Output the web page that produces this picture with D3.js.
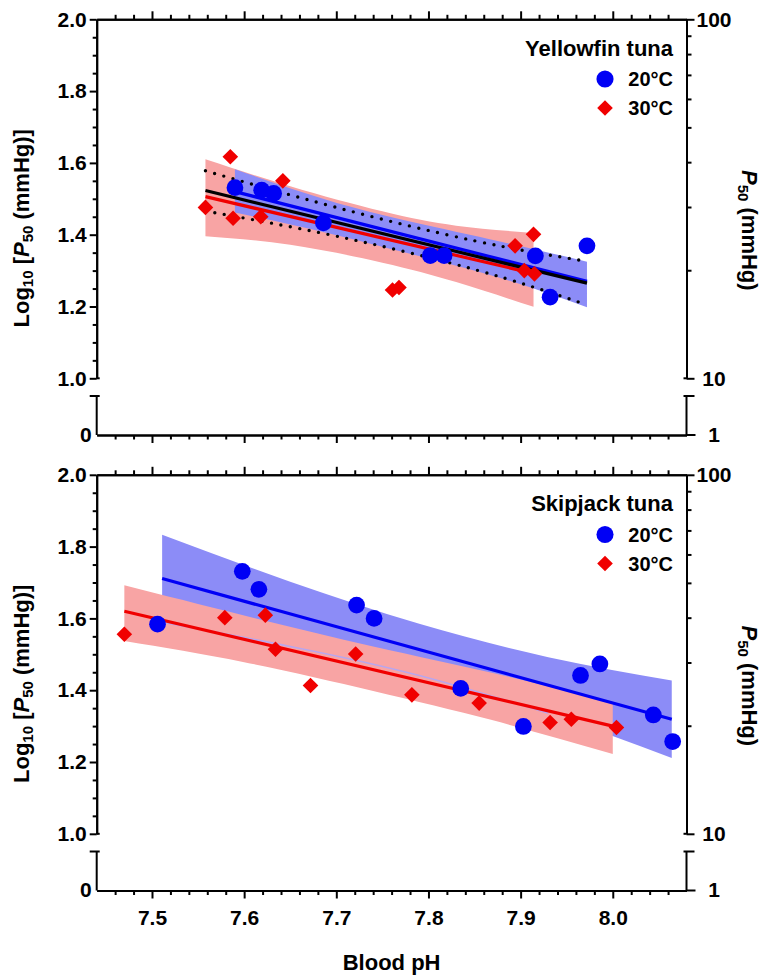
<!DOCTYPE html>
<html>
<head>
<meta charset="utf-8">
<script src="https://cdn.jsdelivr.net/npm/d3@7"></script>
<style>
  body { margin: 0; background: #fff }
  svg text { font-family: "Liberation Sans", Arial, sans-serif; font-weight: bold; fill: #000 }
  .axis path, .axis line { stroke: #000; stroke-width: 2; fill: none }
  .axis .tick text { font-size: 21px }
</style>
</head>
<body>
<div id="chart"></div>
<script>
// Yellowfin tuna, log10 P50 against blood pH
var yf_ph_20 = [7.590, 7.619, 7.632, 7.686, 7.802, 7.817, 7.916, 7.932, 7.972]
var yf_log_20 = [1.531, 1.524, 1.515, 1.433, 1.342, 1.342, 1.341, 1.226, 1.369]
var yf_ph_30 = [7.585, 7.642, 7.558, 7.588, 7.618, 7.914, 7.894, 7.904, 7.915, 7.761, 7.768]
var yf_log_30 = [1.617, 1.550, 1.476, 1.446, 1.450, 1.401, 1.369, 1.300, 1.291, 1.246, 1.253]

// Skipjack tuna
var sk_ph_20 = [7.506, 7.598, 7.616, 7.722, 7.741, 7.835, 7.903, 7.965, 7.986, 8.044, 8.065]
var sk_log_20 = [1.584, 1.731, 1.681, 1.637, 1.600, 1.405, 1.299, 1.441, 1.473, 1.331, 1.257]
var sk_ph_30 = [7.470, 7.579, 7.623, 7.634, 7.672, 7.721, 7.782, 7.855, 7.932, 7.955, 8.004]
var sk_log_30 = [1.556, 1.602, 1.609, 1.514, 1.413, 1.501, 1.387, 1.364, 1.310, 1.319, 1.296]

// regression lines [pH, log10 P50]
var yf_fit_20 = [[7.590, 1.520], [7.972, 1.270]]
var yf_fit_30 = [[7.558, 1.506], [7.914, 1.292]]
var yf_fit_all = [[7.558, 1.523], [7.972, 1.265]]
var sk_fit_20 = [[7.511, 1.711], [8.064, 1.319]]
var sk_fit_30 = [[7.470, 1.620], [8.000, 1.300]]

// 95% bands [pH, lower, upper]
var yf_band_20 = [[7.590, 1.462, 1.582], [7.690, 1.405, 1.497], [7.780, 1.347, 1.437], [7.880, 1.278, 1.380], [7.972, 1.198, 1.325]]
var yf_band_30 = [[7.558, 1.396, 1.610], [7.650, 1.372, 1.535], [7.750, 1.322, 1.465], [7.830, 1.268, 1.425], [7.914, 1.199, 1.405]]
var yf_band_all = [[7.558, 1.466, 1.578], [7.700, 1.396, 1.476], [7.850, 1.303, 1.383], [7.967, 1.209, 1.328]]
var sk_band_20 = [[7.511, 1.589, 1.833], [7.650, 1.522, 1.702], [7.790, 1.441, 1.585], [7.930, 1.336, 1.492], [8.064, 1.211, 1.427]]
var sk_band_30 = [[7.470, 1.537, 1.692], [7.600, 1.478, 1.608], [7.740, 1.398, 1.522], [7.870, 1.316, 1.448], [8.000, 1.222, 1.366]]

// axes
var x_domain = [7.44, 8.08]
var x_major = [7.5, 7.6, 7.7, 7.8, 7.9, 8.0]
var y_major = [1.0, 1.2, 1.4, 1.6, 1.8, 2.0]
var p50_major = [10, 100]
var p50_minor = [20, 30, 40, 50, 60, 70, 80, 90]
var legend_labels = ["20°C", "30°C"]

var width = 761, height = 976
var blue = "#0000f5", red = "#f00000"
var blue_band = "#8c8cf7", red_band = "#f8a4a4"

var svg = d3.select("#chart").append("svg")
  .attr("width", width)
  .attr("height", height)

var x = d3.scaleLinear().domain(x_domain).range([96.7, 686.5])
var x0 = x.range()[0], x1 = x.range()[1]
var x_minor = d3.range(373, 404).filter(function (i) { return i % 5 != 0 }).map(function (i) { return i / 50 })
var y_minor = d3.range(20, 41).filter(function (i) { return i % 4 != 0 }).map(function (i) { return i / 20 })

var circle = d3.symbol().type(d3.symbolCircle).size(220)
var square = d3.symbol().type(d3.symbolSquare).size(122)

function draw_frame(y0, show_x_labels) {
  var y = d3.scaleLinear().domain([1, 2]).range([y0 + 359, y0])
  var y_log = d3.scaleLog().domain([10, 100]).range([y0 + 359, y0])
  var y_one = y0 + 359, y_break = y0 + 376.7, y_zero = y0 + 415.7
  var frame = svg.append("g").attr("class", "axis")

  // left axis
  frame.append("g").attr("transform", "translate(" + x0 + ",0)")
    .call(d3.axisLeft(y).tickValues(y_minor).tickSize(4).tickSizeOuter(0).tickFormat(""))
  frame.append("g").attr("transform", "translate(" + x0 + ",0)")
    .call(d3.axisLeft(y).tickValues(y_major).tickSize(7).tickSizeOuter(0).tickPadding(3).tickFormat(d3.format(".1f")))
  frame.append("line").attr("x1", x0).attr("x2", x0 + 3).attr("y1", y_one).attr("y2", y_one)
  frame.append("line").attr("x1", x0).attr("x2", x0).attr("y1", y_break).attr("y2", y_zero)
  frame.append("line").attr("x1", x0 - 7).attr("x2", x0 + 3).attr("y1", y_break).attr("y2", y_break)
  frame.append("text").attr("x", x0 - 5).attr("y", y_zero).attr("dy", "0.32em")
    .attr("text-anchor", "end").style("font-size", "21px").text("0")

  // right axis, P50 on log scale
  frame.append("g").attr("transform", "translate(" + x1 + ",0)")
    .call(d3.axisRight(y_log).tickValues(p50_minor).tickSize(5).tickSizeOuter(0).tickFormat(""))
  var right = frame.append("g").attr("transform", "translate(" + x1 + ",0)")
    .call(d3.axisRight(y_log).tickValues(p50_major).tickSize(8).tickSizeOuter(0).tickFormat(d3.format("d")))
  right.selectAll(".tick text").attr("x", 27.5).attr("text-anchor", "middle")
  frame.append("line").attr("x1", x1 - 3).attr("x2", x1).attr("y1", y_one).attr("y2", y_one)
  frame.append("line").attr("x1", x1).attr("x2", x1).attr("y1", y_break).attr("y2", y_zero)
  frame.append("line").attr("x1", x1 - 3).attr("x2", x1 + 8).attr("y1", y_break).attr("y2", y_break)
  frame.append("line").attr("x1", x1).attr("x2", x1 + 9).attr("y1", y_zero).attr("y2", y_zero)
  frame.append("text").attr("x", x1 + 27.5).attr("y", y_zero).attr("dy", "0.32em")
    .attr("text-anchor", "middle").style("font-size", "21px").text("1")

  // top and bottom x axes
  frame.append("g").attr("transform", "translate(0," + y0 + ")")
    .call(d3.axisTop(x).tickValues(x_minor).tickSize(4.5).tickSizeOuter(0).tickFormat(""))
  frame.append("g").attr("transform", "translate(0," + y0 + ")")
    .call(d3.axisTop(x).tickValues(x_major).tickSize(8).tickSizeOuter(0).tickFormat(""))
  frame.append("g").attr("transform", "translate(0," + y_zero + ")")
    .call(d3.axisBottom(x).tickValues(x_minor).tickSize(4.5).tickSizeOuter(0).tickFormat(""))
  frame.append("g").attr("transform", "translate(0," + y_zero + ")")
    .call(d3.axisBottom(x).tickValues(x_major).tickSize(8).tickSizeOuter(0).tickPadding(12)
      .tickFormat(show_x_labels ? d3.format(".1f") : ""))

  // axis titles
  var left_title = svg.append("text")
    .attr("transform", "translate(29," + (y0 + 209) + ") rotate(-90)")
    .attr("text-anchor", "middle")
    .style("font-size", "22px")
  left_title.append("tspan").text("Log")
  left_title.append("tspan").attr("dy", 4).style("font-size", "15px").text("10")
  left_title.append("tspan").attr("dy", -4).text(" [")
  left_title.append("tspan").style("font-style", "italic").text("P")
  left_title.append("tspan").attr("dy", 4).style("font-size", "15px").text("50")
  left_title.append("tspan").attr("dy", -4).text(" (mmHg)]")

  var right_title = svg.append("text")
    .attr("transform", "translate(742," + (y0 + 211) + ") rotate(90)")
    .attr("text-anchor", "middle")
    .style("font-size", "22px")
  right_title.append("tspan").style("font-style", "italic").text("P")
  right_title.append("tspan").attr("dy", 4).style("font-size", "15px").text("50")
  right_title.append("tspan").attr("dy", -4).text(" (mmHg)")

  return y
}

function band_area(y) {
  return d3.area()
    .x(function (d) { return x(d[0]) })
    .y0(function (d) { return y(d[1]) })
    .y1(function (d) { return y(d[2]) })
    .curve(d3.curveNatural)
}

function edge_line(y, k) {
  return d3.line()
    .x(function (d) { return x(d[0]) })
    .y(function (d) { return y(d[k]) })
    .curve(d3.curveNatural)
}

function fit_line(g, y, pts, colour) {
  g.append("line")
    .attr("x1", x(pts[0][0])).attr("y1", y(pts[0][1]))
    .attr("x2", x(pts[1][0])).attr("y2", y(pts[1][1]))
    .attr("stroke", colour)
    .attr("stroke-width", 3.2)
}

function draw_points(g, y, ph_20, log_20, ph_30, log_30) {
  g.selectAll(null).data(d3.zip(ph_20, log_20)).enter().append("path")
    .attr("d", circle)
    .attr("transform", function (d) { return "translate(" + x(d[0]) + "," + y(d[1]) + ")" })
    .attr("fill", blue)
  g.selectAll(null).data(d3.zip(ph_30, log_30)).enter().append("path")
    .attr("d", square)
    .attr("transform", function (d) { return "translate(" + x(d[0]) + "," + y(d[1]) + ") rotate(45)" })
    .attr("fill", red)
}

function draw_legend(y0, title) {
  var lg = svg.append("g")
  lg.append("text").attr("x", 673).attr("y", y0 + 36.2)
    .attr("text-anchor", "end").style("font-size", "22px").text(title)
  lg.append("path").attr("d", d3.symbol().type(d3.symbolCircle).size(230))
    .attr("transform", "translate(605," + (y0 + 59.7) + ")").attr("fill", blue)
  lg.append("path").attr("d", square)
    .attr("transform", "translate(605," + (y0 + 88.7) + ") rotate(45)").attr("fill", red)
  lg.append("text").attr("x", 673).attr("y", y0 + 66.7)
    .attr("text-anchor", "end").style("font-size", "20px").text(legend_labels[0])
  lg.append("text").attr("x", 673).attr("y", y0 + 95.7)
    .attr("text-anchor", "end").style("font-size", "20px").text(legend_labels[1])
}

// Top panel: yellowfin
var y_top = draw_frame(19.3, false)
var top_marks = svg.append("g")
top_marks.append("path").attr("d", band_area(y_top)(yf_band_30)).attr("fill", red_band)
top_marks.append("path").attr("d", band_area(y_top)(yf_band_20)).attr("fill", blue_band)
;[1, 2].forEach(function (k) {
  top_marks.append("path")
    .attr("d", edge_line(y_top, k)(yf_band_all))
    .attr("fill", "none")
    .attr("stroke", "#000")
    .attr("stroke-width", 3.4)
    .attr("stroke-linecap", "round")
    .attr("stroke-dasharray", "0 9.6")
})
fit_line(top_marks, y_top, yf_fit_30, red)
fit_line(top_marks, y_top, yf_fit_20, blue)
fit_line(top_marks, y_top, yf_fit_all, "#000")
draw_points(top_marks, y_top, yf_ph_20, yf_log_20, yf_ph_30, yf_log_30)
draw_legend(19.3, "Yellowfin tuna")

// Bottom panel: skipjack
var y_bot = draw_frame(474.8, true)
var bot_marks = svg.append("g")
bot_marks.append("path").attr("d", band_area(y_bot)(sk_band_20)).attr("fill", blue_band)
bot_marks.append("path").attr("d", band_area(y_bot)(sk_band_30)).attr("fill", red_band)
bot_marks.append("path")
  .attr("d", edge_line(y_bot, 1)(sk_band_20.filter(function (d) { return d[0] <= 8.0 })))
  .attr("fill", "none")
  .attr("stroke", "#b8a6ee")
  .attr("stroke-width", 1.5)
fit_line(bot_marks, y_bot, sk_fit_20, blue)
fit_line(bot_marks, y_bot, sk_fit_30, red)
draw_points(bot_marks, y_bot, sk_ph_20, sk_log_20, sk_ph_30, sk_log_30)
draw_legend(474.8, "Skipjack tuna")

svg.append("text")
  .attr("x", (x0 + x1) / 2)
  .attr("y", 970)
  .attr("text-anchor", "middle")
  .style("font-size", "22px")
  .text("Blood pH")
</script>
</body>
</html>
